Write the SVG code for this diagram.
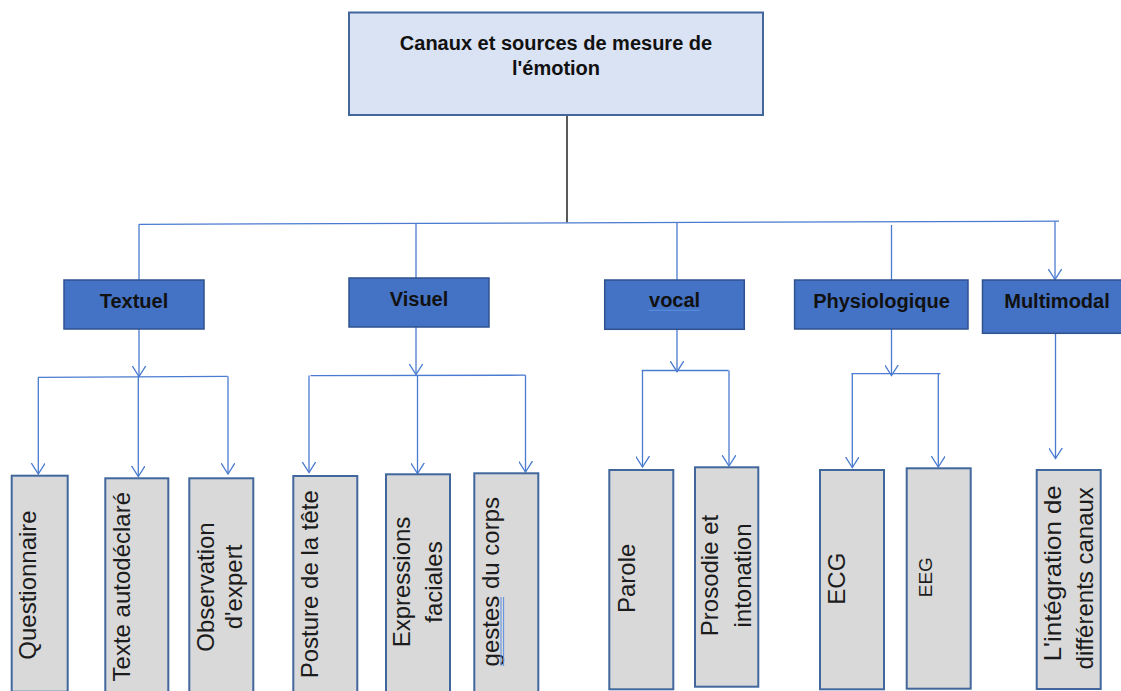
<svg xmlns="http://www.w3.org/2000/svg" width="1121" height="691" viewBox="0 0 1121 691">
  <style>
    .root { fill: #dae3f3; stroke: #41679d; stroke-width: 2; }
    .cat { fill: #4472c4; stroke: #2f528f; stroke-width: 1.5; }
    .leaf { fill: #d9d9d9; stroke: #41679d; stroke-width: 2; }
    .title { font-family: "Liberation Sans", Arial, sans-serif; font-weight: bold; font-size: 20px; fill: #111; text-anchor: middle; }
    .lbl { font-family: "Liberation Sans", Arial, sans-serif; font-size: 24px; fill: #1c1c1c; text-anchor: middle; }
    .conn { fill: none; stroke: #4a7bd0; stroke-width: 1.3; }
    .spell { fill: none; stroke: #5b8fe0; stroke-width: 1; }
  </style>
  <defs>
    <marker id="arr" viewBox="0 0 12 14" refX="11" refY="7" markerWidth="12" markerHeight="14" markerUnits="userSpaceOnUse" orient="auto">
      <path d="M0,0 L11,7 L0,14" fill="none" stroke="#4a7bd0" stroke-width="1.3"/>
    </marker>
  </defs>
  <rect width="1121" height="691" fill="#ffffff"/>

  <!-- connectors -->
  <g id="connectors">
    <line x1="567" y1="115" x2="567" y2="222.5" stroke="#000" stroke-width="1.3"/>
    <line class="conn" x1="139" y1="224.3" x2="1059" y2="221.2"/>
    <line class="conn" x1="139" y1="224.3" x2="139" y2="280"/>
    <line class="conn" x1="416" y1="223.4" x2="416" y2="278"/>
    <line class="conn" x1="677" y1="222.5" x2="677" y2="280"/>
    <line class="conn" x1="891.5" y1="225" x2="891.5" y2="280"/>
    <line class="conn" x1="1055" y1="221.3" x2="1055" y2="279.5" marker-end="url(#arr)"/>

    <!-- Textuel branch -->
    <line class="conn" x1="139" y1="329" x2="139" y2="376.5" marker-end="url(#arr)"/>
    <line class="conn" x1="38" y1="377.3" x2="227.5" y2="376.3"/>
    <line class="conn" x1="38.3" y1="377.3" x2="38.3" y2="474" marker-end="url(#arr)"/>
    <line class="conn" x1="138.3" y1="376.8" x2="138.3" y2="476.5" marker-end="url(#arr)"/>
    <line class="conn" x1="228" y1="376.3" x2="228" y2="474" marker-end="url(#arr)"/>

    <!-- Visuel branch -->
    <line class="conn" x1="416" y1="327" x2="416" y2="374.5" marker-end="url(#arr)"/>
    <line class="conn" x1="310.5" y1="375.6" x2="525.5" y2="375.2"/>
    <line class="conn" x1="309" y1="375.6" x2="309" y2="472.5" marker-end="url(#arr)"/>
    <line class="conn" x1="417.5" y1="375.4" x2="417.5" y2="473.5" marker-end="url(#arr)"/>
    <line class="conn" x1="525.5" y1="375.2" x2="525.5" y2="472" marker-end="url(#arr)"/>

    <!-- vocal branch -->
    <line class="conn" x1="677" y1="329.3" x2="677" y2="371.7" marker-end="url(#arr)"/>
    <line class="conn" x1="641.7" y1="370.5" x2="728.5" y2="370.5"/>
    <line class="conn" x1="642.5" y1="370.5" x2="642.5" y2="467" marker-end="url(#arr)"/>
    <line class="conn" x1="729" y1="370.5" x2="729" y2="466" marker-end="url(#arr)"/>

    <!-- Physiologique branch -->
    <line class="conn" x1="891.5" y1="329" x2="891.5" y2="375.5" marker-end="url(#arr)"/>
    <line class="conn" x1="851.5" y1="373.7" x2="940.5" y2="373.7"/>
    <line class="conn" x1="852.3" y1="373.7" x2="852.3" y2="467.5" marker-end="url(#arr)"/>
    <line class="conn" x1="938.3" y1="373.7" x2="938.3" y2="467" marker-end="url(#arr)"/>

    <!-- Multimodal branch -->
    <line class="conn" x1="1055.5" y1="333.3" x2="1055.5" y2="458.5" marker-end="url(#arr)"/>
  </g>

  <!-- root -->
  <g id="root">
    <rect class="root" x="349" y="12.5" width="414" height="102.5"/>
    <text class="title" x="556" y="50">Canaux et sources de mesure de</text>
    <text class="title" x="556" y="75">l'émotion</text>
  </g>

  <!-- channel categories -->
  <g id="textuel">
    <rect class="cat" x="64" y="280" width="140" height="49"/>
    <text class="title" x="134" y="307.7">Textuel</text>
  </g>
  <g id="visuel">
    <rect class="cat" x="349" y="278" width="140" height="49"/>
    <text class="title" x="419" y="305.7">Visuel</text>
  </g>
  <g id="vocal">
    <rect class="cat" x="604.7" y="280" width="139.6" height="49.3"/>
    <text class="title" x="674.6" y="306.5">vocal</text>
    <path class="spell" d="M648.5,310.3 L700,310.3"/>
  </g>
  <g id="physiologique">
    <rect class="cat" x="794.6" y="280" width="173.4" height="49"/>
    <text class="title" x="881.5" y="307.7">Physiologique</text>
  </g>
  <g id="multimodal">
    <rect class="cat" x="982.5" y="280" width="150" height="53.3"/>
    <text class="title" x="1057" y="307.7">Multimodal</text>
  </g>

  <!-- sources -->
  <g id="questionnaire">
    <rect class="leaf" x="11.7" y="475.7" width="56" height="216"/>
    <text class="lbl" transform="translate(35.5,585) rotate(-90)">Questionnaire</text>
  </g>
  <g id="texte-autodeclare">
    <rect class="leaf" x="105.3" y="478.3" width="63" height="214"/>
    <text class="lbl" transform="translate(129.5,586.7) rotate(-90)">Texte autodéclaré</text>
  </g>
  <g id="observation-expert">
    <rect class="leaf" x="189.3" y="478.3" width="64" height="214"/>
    <text class="lbl" transform="translate(213.5,587) rotate(-90)">Observation<tspan x="0" dy="28.5">d'expert</tspan></text>
  </g>
  <g id="posture-tete">
    <rect class="leaf" x="293.3" y="476" width="64" height="216"/>
    <text class="lbl" transform="translate(318,584.2) rotate(-90)">Posture de la tête</text>
  </g>
  <g id="expressions-faciales">
    <rect class="leaf" x="386" y="474.3" width="64" height="218"/>
    <text class="lbl" transform="translate(409.5,582) rotate(-90)">Expressions<tspan x="0" dy="32.5">faciales</tspan></text>
  </g>
  <g id="gestes-corps">
    <rect class="leaf" x="474.3" y="473.3" width="64" height="219"/>
    <text class="lbl" transform="translate(499,581.7) rotate(-90)">gestes du corps</text>
    <path class="spell" d="M501,597 L501,666 M503.6,597 L503.6,666"/>
  </g>
  <g id="parole">
    <rect class="leaf" x="609.3" y="470" width="64" height="219.3"/>
    <text class="lbl" transform="translate(635,578.3) rotate(-90)">Parole</text>
  </g>
  <g id="prosodie-intonation">
    <rect class="leaf" x="695" y="467.3" width="63.3" height="219.4"/>
    <text class="lbl" transform="translate(718,575.5) rotate(-90)">Prosodie et<tspan x="0" dy="32.5">intonation</tspan></text>
  </g>
  <g id="ecg">
    <rect class="leaf" x="820" y="470" width="64" height="219.3"/>
    <text class="lbl" transform="translate(845,578.7) rotate(-90)">ECG</text>
  </g>
  <g id="eeg">
    <rect class="leaf" x="906.7" y="468.3" width="64" height="220.4"/>
    <text class="lbl" style="font-size:19px" transform="translate(931.7,577.2) rotate(-90)">EEG</text>
  </g>
  <g id="integration-canaux">
    <rect class="leaf" x="1036.7" y="470" width="64" height="219"/>
    <text class="lbl" transform="translate(1060.7,573.3) rotate(-90)" textLength="176" lengthAdjust="spacingAndGlyphs">L'intégration de</text>
    <text class="lbl" transform="translate(1092.5,578.3) rotate(-90)">différents canaux</text>
  </g>
</svg>
